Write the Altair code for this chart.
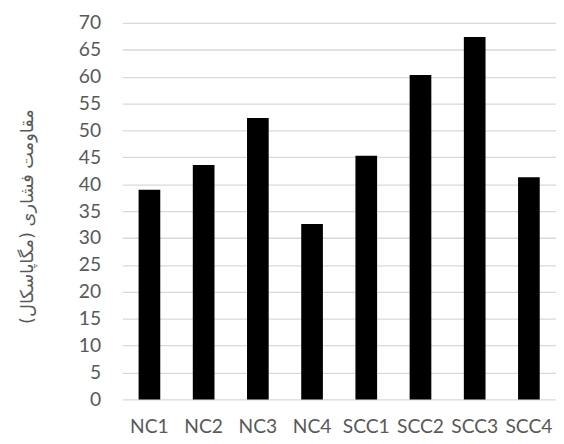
import altair as alt
import pandas as pd

categories = ["NC1", "NC2", "NC3", "NC4", "SCC1", "SCC2", "SCC3", "SCC4"]
values = [39.0, 43.6, 52.3, 32.6, 45.3, 60.3, 67.4, 41.3]
y_ticks = list(range(0, 75, 5))
y_title = "مقاومت فشاری (مگاپاسکال)"

df = pd.DataFrame({"cat": categories, "val": values})

chart = alt.Chart(df).mark_bar(color="black").encode(
    x=alt.X("cat:N", sort=categories,
            scale=alt.Scale(paddingInner=0.6, paddingOuter=0.3),
            axis=alt.Axis(title=None, labelAngle=0, ticks=False, domain=False,
                          labelPadding=19, labelFont="Lato", labelFontSize=19.5,
                          labelColor="#595959")),
    y=alt.Y("val:Q", scale=alt.Scale(domain=[0, 70], nice=False),
            axis=alt.Axis(values=y_ticks, title=y_title, ticks=False, domain=False,
                          labelPadding=22, labelFont="Lato", labelFontSize=19.5,
                          labelColor="#595959", gridColor="#d9d9d9", gridWidth=1.3,
                          titleFont="DejaVu Sans", titleFontSize=18, titleFontWeight="normal",
                          titleColor="#595959", titleAngle=270, titleBaseline="middle",
                          titleX=-96, titleY=196)),
).properties(
    width=440, height=382,
    autosize=alt.AutoSizeParams(type="none"),
    padding={"left": 116, "top": 12, "right": 0, "bottom": 34},
).configure_view(stroke=None)

chart.save("out.html", embed_options={"renderer": "svg", "actions": False})
